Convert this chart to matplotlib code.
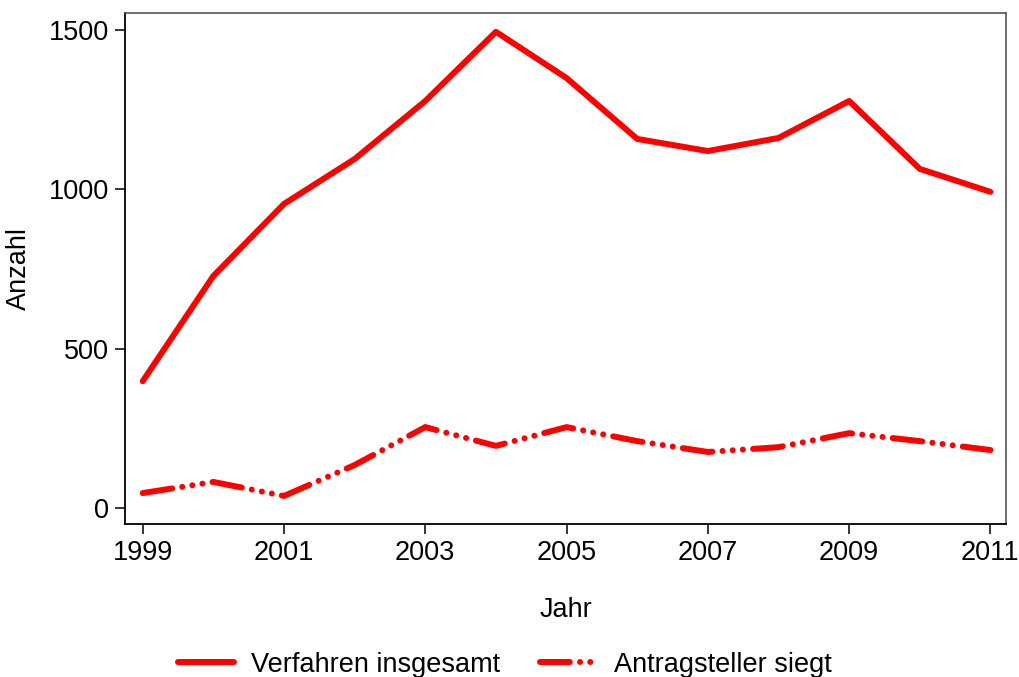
import matplotlib
matplotlib.use("Agg")
import matplotlib.pyplot as plt
from matplotlib.lines import Line2D

plt.rcParams['font.family'] = ['Liberation Sans', 'DejaVu Sans']

years = [1999, 2000, 2001, 2002, 2003, 2004, 2005, 2006, 2007, 2008, 2009, 2010, 2011]
verfahren = [398, 728, 954, 1095, 1277, 1494, 1349, 1158, 1120, 1161, 1277, 1064, 992]
antragsteller = [47, 82, 38, 135, 254, 195, 254, 210, 176, 191, 235, 210, 182]
xticks = [1999, 2001, 2003, 2005, 2007, 2009, 2011]
yticks = [0, 500, 1000, 1500]

red = '#ff0000'
lw = 4.3
dash_pat = (0, (5.0, 1.7, 0.01, 1.7, 0.01, 1.7, 0.01, 1.7))
fs = 19.5

fig = plt.figure(figsize=(10.19, 6.77), dpi=100)
ax = fig.add_axes([0.1227, 0.2260, 0.9872 - 0.1227, 0.9808 - 0.2260])

ax.plot(years, verfahren, color=red, lw=lw, solid_capstyle='round',
        solid_joinstyle='round', label='Verfahren insgesamt')
ax.plot(years, antragsteller, color=red, lw=lw, linestyle=dash_pat,
        dash_capstyle='round', dash_joinstyle='round', label='Antragsteller siegt')

ax.set_xlim(1998.75, 2011.22)
ax.set_ylim(-50, 1553)
ax.set_xticks(xticks)
ax.set_yticks(yticks)
ax.tick_params(axis='both', direction='out', length=7.5, width=1.1,
               labelsize=fs, pad=4, colors='black')

for s in ['left', 'bottom']:
    ax.spines[s].set_color('black')
    ax.spines[s].set_linewidth(1.3)
for s in ['top', 'right']:
    ax.spines[s].set_color('#555555')
    ax.spines[s].set_linewidth(1.2)

ax.set_xlabel('Jahr', fontsize=fs, labelpad=22)
ax.set_ylabel('Anzahl', fontsize=fs, labelpad=12)

handles = [Line2D([0], [0], color=red, lw=lw, solid_capstyle='round'),
           Line2D([0], [0], color=red, lw=lw, linestyle=dash_pat, dash_capstyle='round')]
fig.legend(handles, ['Verfahren insgesamt', 'Antragsteller siegt'],
           loc='center', bbox_to_anchor=(0.495, 0.018), ncol=2, frameon=False,
           fontsize=fs, handlelength=2.1, handletextpad=0.6, columnspacing=1.5)

fig.savefig('out.png', dpi=100, facecolor='white')
